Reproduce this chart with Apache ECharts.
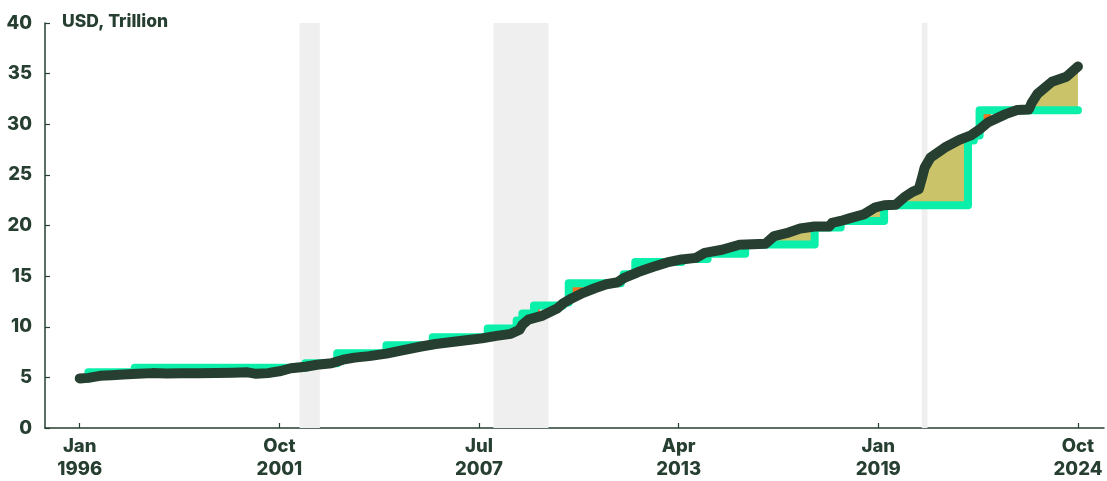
<!DOCTYPE html>
<html>
<head>
<meta charset="utf-8">
<script src="https://cdn.jsdelivr.net/npm/echarts@6/dist/echarts.min.js"></script>
<style>
  html, body { margin: 0; padding: 0; background: #ffffff; }
  #chart { width: 1107px; height: 481px; }
</style>
</head>
<body>
<div id="chart"></div>
<script>
// ---- data ----
const debtDates = ['1996-01','1996-04','1996-08','1996-12','1997-04','1997-09','1998-02','1998-07','1998-12','1999-06','1999-12','2000-06','2000-11','2001-02','2001-06','2001-10','2002-02','2002-07','2002-11','2003-04','2003-08','2003-12','2004-05','2004-11','2005-04','2005-11','2006-04','2006-11','2007-04','2007-08','2008-01','2008-06','2008-09','2008-10','2008-12','2009-05','2009-10','2009-12','2010-03','2010-07','2010-11','2011-03','2011-07','2011-09','2012-02','2012-07','2012-12','2013-05','2013-10','2014-01','2014-07','2015-01','2015-10','2016-01','2016-06','2016-10','2017-03','2017-08','2017-09','2017-12','2018-03','2018-08','2018-12','2019-03','2019-07','2019-10','2020-01','2020-03','2020-04','2020-05','2020-07','2020-12','2021-05','2021-09','2021-12','2022-03','2022-09','2023-01','2023-05','2023-06','2023-08','2024-01','2024-06','2024-10'];
const debtValues = [4.90,4.95,5.15,5.22,5.28,5.35,5.42,5.38,5.40,5.40,5.42,5.45,5.50,5.35,5.42,5.60,5.90,6.05,6.25,6.40,6.75,6.95,7.10,7.35,7.65,8.05,8.30,8.55,8.72,8.85,9.10,9.30,9.70,10.20,10.70,11.10,11.80,12.30,12.80,13.35,13.80,14.20,14.40,14.80,15.40,15.90,16.35,16.65,16.80,17.30,17.60,18.10,18.20,18.95,19.30,19.70,19.90,19.90,20.25,20.45,20.70,21.10,21.80,22.00,22.05,22.80,23.35,23.60,24.60,25.70,26.70,27.70,28.45,28.90,29.50,30.20,31.00,31.40,31.45,32.10,33.00,34.20,34.70,35.70];

const ceilingDates = ['1996-01','1996-04','1997-08','2002-07','2003-06','2004-11','2006-03','2007-10','2008-08','2008-10','2009-02','2009-12','2010-02','2011-08','2011-09','2012-01','2013-05','2014-02','2015-03','2017-03','2017-12','2019-03','2021-08','2021-10','2021-12','2024-10'];
const ceilingValues = [4.9,5.5,5.95,6.4,7.384,8.184,8.965,9.815,10.615,11.315,12.104,12.394,14.294,14.694,15.194,16.394,16.699,17.2,18.113,19.809,20.456,21.988,28.401,28.881,31.381,31.381];

// periods where debt ran above the (suspended) limit
const suspensionZones = [['2015-11','2017-03'],['2017-09','2017-12'],['2018-02','2019-03'],['2019-08','2021-08'],['2023-06','2024-10']];
// short periods right after a limit increase (orange fill)
const orangeZones = [['2009-02','2009-04'],['2010-02','2010-07'],['2021-12','2022-04']];

const recessions = [['2002-05','2002-12'],['2007-12','2009-07'],['2020-04','2020-06']];

const xTickDates = ['1996-01','2001-10','2007-07','2013-04','2019-01','2024-10'];
const xTickLabels = ['Jan\n1996','Oct\n2001','Jul\n2007','Apr\n2013','Jan\n2019','Oct\n2024'];

// ---- helpers ----
function ym(s) { const p = s.split('-').map(Number); return p[0] + (p[1] - 1) / 12; }
const debtT = debtDates.map(ym);
const ceilT = ceilingDates.map(ym);
const xTickValues = xTickDates.map(ym);

function debtAt(t) {
  for (let i = 0; i < debtT.length - 1; i++) {
    if (t >= debtT[i] && t <= debtT[i + 1]) {
      const f = (t - debtT[i]) / (debtT[i + 1] - debtT[i]);
      return debtValues[i] + f * (debtValues[i + 1] - debtValues[i]);
    }
  }
  return debtValues[debtValues.length - 1];
}
function ceilingAt(t) {
  let v = ceilingValues[0];
  for (let i = 0; i < ceilT.length; i++) { if (ceilT[i] <= t + 1e-9) v = ceilingValues[i]; }
  return v;
}
function zonePolygon(z) {
  const s = ym(z[0]), e = ym(z[1]);
  const base = ceilingAt(s);
  const pts = [[s, debtAt(s)]];
  for (let i = 0; i < debtT.length; i++) { if (debtT[i] > s && debtT[i] < e) pts.push([debtT[i], debtValues[i]]); }
  pts.push([e, debtAt(e)]);
  pts.push([e, base]);
  pts.push([s, base]);
  return pts;
}

const DARK = '#263F31';
const GREEN = '#0AF0AA';
const OLIVE = '#CBC36A';
const ORANGE = '#F2731F';
const FONT = 'Inter, "DejaVu Sans", sans-serif';

function zoneSeries(zones, color, z) {
  return {
    type: 'custom',
    coordinateSystem: 'cartesian2d',
    z: z,
    silent: true,
    encode: { x: [0, 1], y: 2 },
    data: zones.map(zz => [ym(zz[0]), ym(zz[1]), ceilingAt(ym(zz[0]))]),
    renderItem: function (params, api) {
      const poly = zonePolygon(zones[params.dataIndex]).map(p => api.coord(p));
      return { type: 'polygon', shape: { points: poly }, style: { fill: color } };
    }
  };
}

const chart = echarts.init(document.getElementById('chart'), null, { renderer: 'canvas' });
chart.setOption({
  animation: false,
  backgroundColor: '#ffffff',
  grid: { left: 45, right: 3, top: 23, bottom: 52, containLabel: false },
  graphic: [{
    type: 'text', left: 62, top: 13,
    style: { text: 'USD, Trillion', font: '800 17.5px ' + FONT, fill: DARK }
  }],
  xAxis: {
    type: 'value',
    min: 1995,
    max: 2025.5,
    axisLine: { show: true, lineStyle: { color: DARK, width: 1.5 } },
    axisTick: { show: true, inside: true, length: 5, customValues: xTickValues, lineStyle: { color: DARK, width: 1.2 } },
    splitLine: { show: false },
    axisLabel: {
      customValues: xTickValues,
      margin: 7,
      color: DARK,
      fontFamily: FONT,
      fontWeight: 800,
      fontSize: 18.5,
      lineHeight: 23,
      formatter: function (v) {
        const i = xTickValues.findIndex(x => Math.abs(x - v) < 1e-6);
        return i >= 0 ? xTickLabels[i] : '';
      }
    }
  },
  yAxis: {
    type: 'value',
    min: 0,
    max: 40,
    interval: 5,
    axisLine: { show: true, lineStyle: { color: DARK, width: 1.5 } },
    axisTick: { show: true, inside: true, length: 5, lineStyle: { color: DARK, width: 1.2 } },
    splitLine: { show: false },
    axisLabel: { margin: 13, color: DARK, fontFamily: FONT, fontWeight: 800, fontSize: 18.5 }
  },
  series: [
    {
      name: 'Recession',
      type: 'line',
      data: [],
      z: 1,
      silent: true,
      markArea: {
        silent: true,
        itemStyle: { color: '#EFEFEF' },
        data: recessions.map(r => [{ xAxis: ym(r[0]) }, { xAxis: ym(r[1]) }])
      }
    },
    zoneSeries(suspensionZones, OLIVE, 2),
    zoneSeries(orangeZones, ORANGE, 2),
    {
      name: 'Debt limit',
      type: 'line',
      step: 'end',
      z: 3,
      showSymbol: false,
      silent: true,
      data: ceilingDates.map((d, i) => [ym(d), ceilingValues[i]]),
      lineStyle: { color: GREEN, width: 8, cap: 'round', join: 'round' }
    },
    {
      name: 'Debt',
      type: 'line',
      z: 4,
      showSymbol: false,
      silent: true,
      data: debtDates.map((d, i) => [ym(d), debtValues[i]]),
      lineStyle: { color: DARK, width: 10, cap: 'round', join: 'round' }
    }
  ]
});
</script>
</body>
</html>
